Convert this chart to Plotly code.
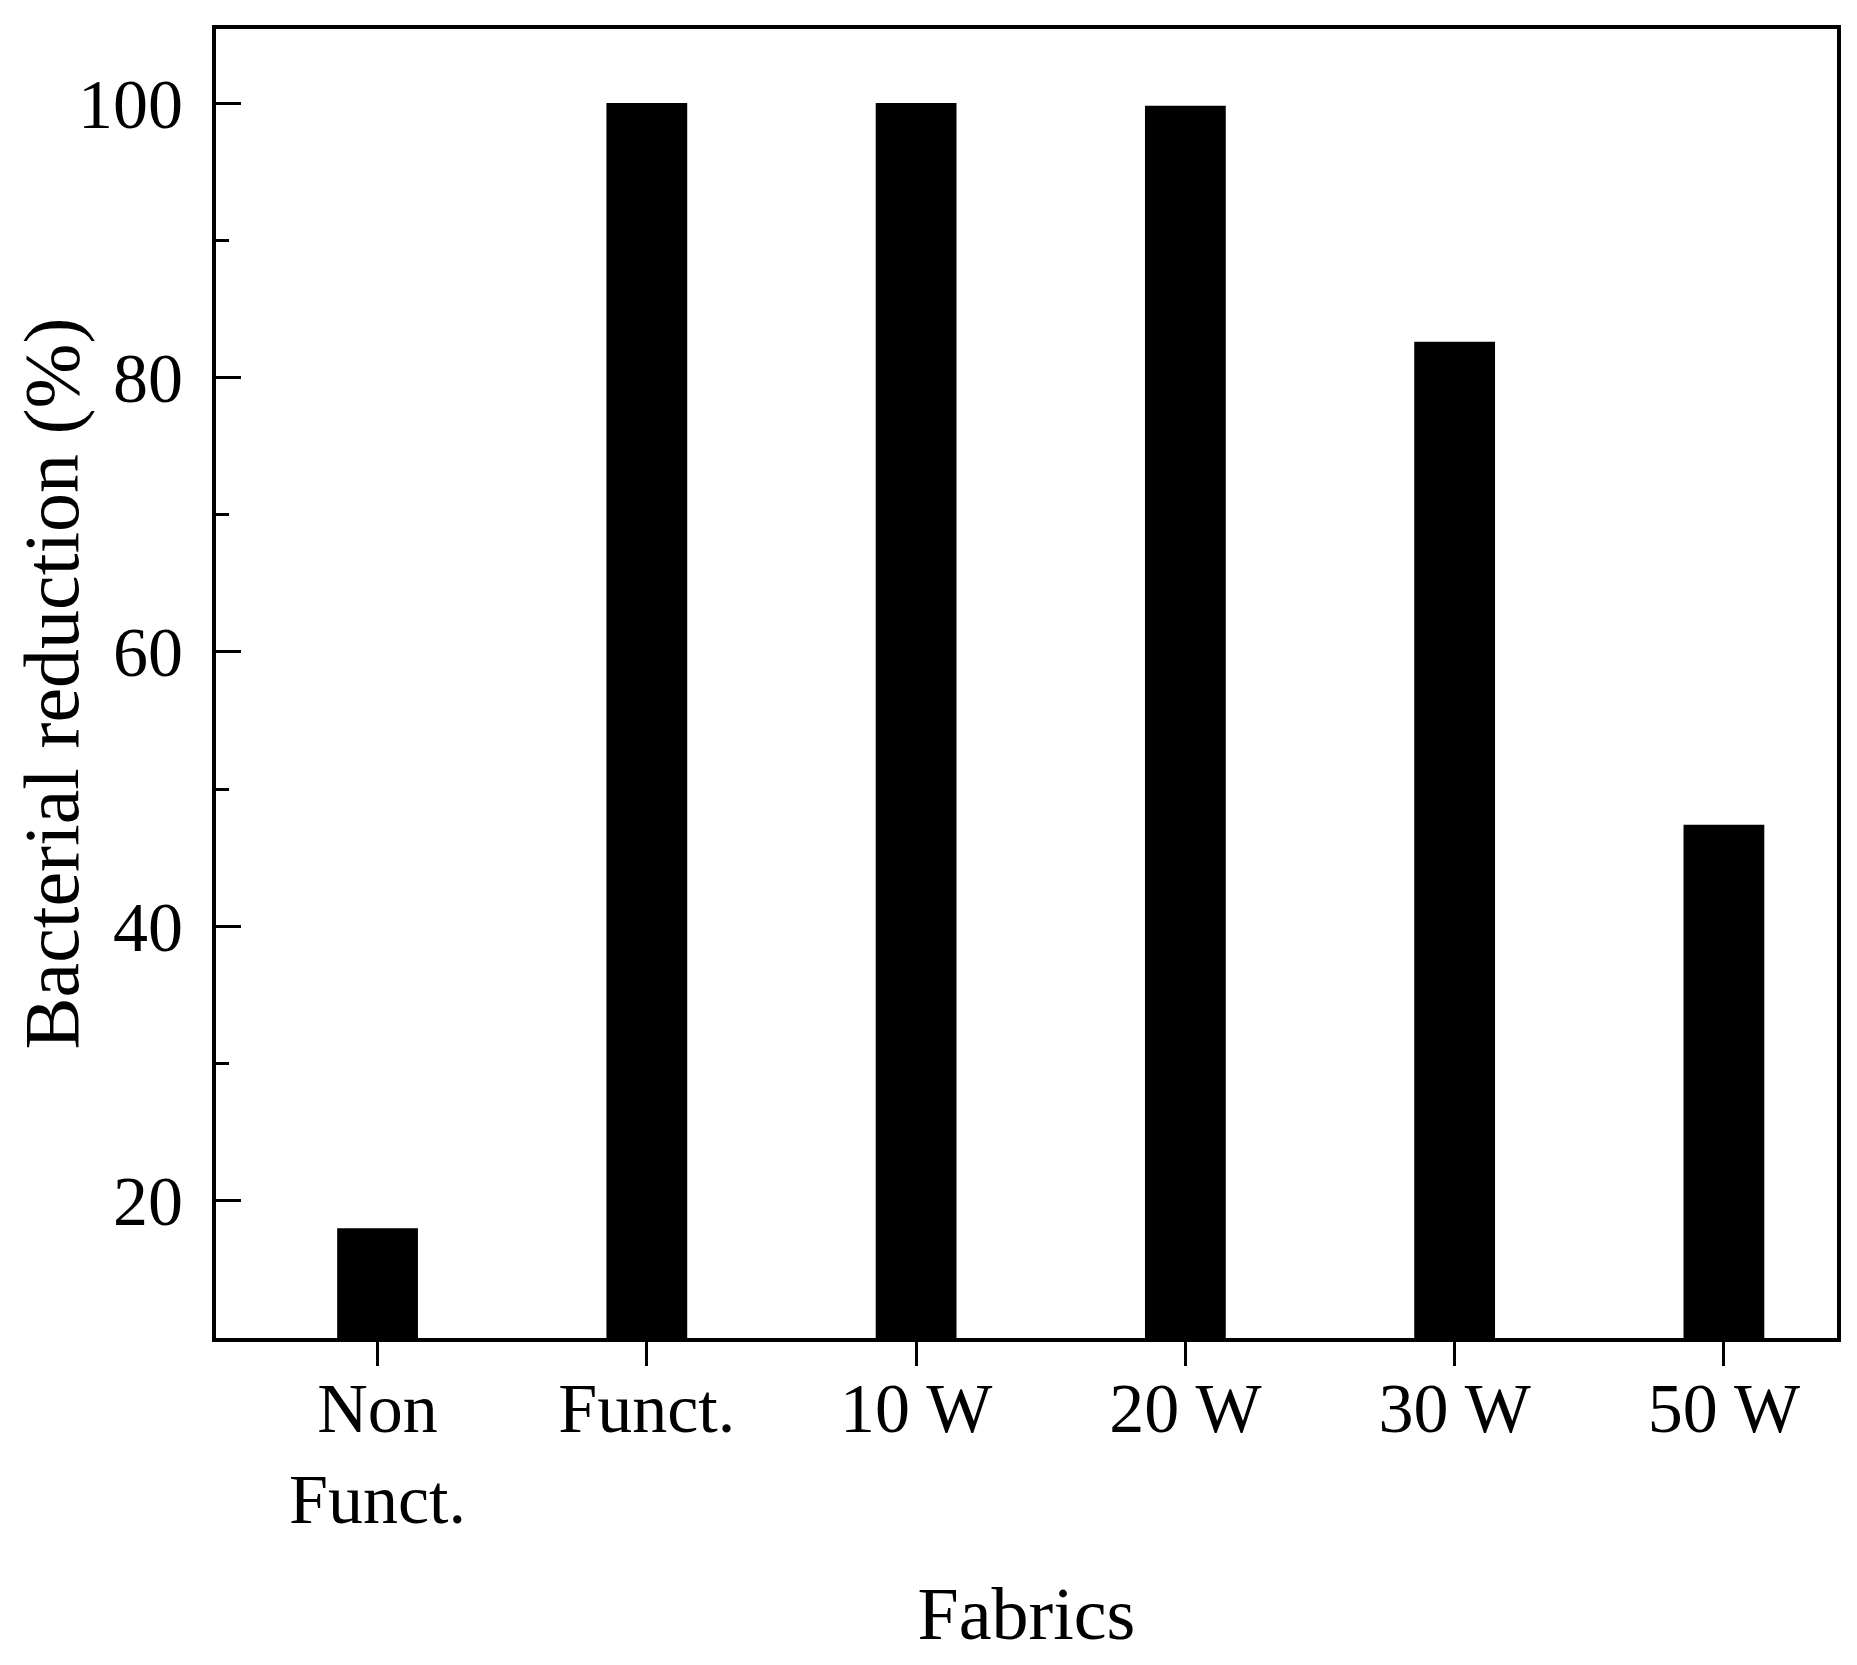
import plotly.graph_objects as go

# fabric samples and measured bacterial reduction (%)
fabrics = ["Non Funct.", "Funct.", "10 W", "20 W", "30 W", "50 W"]
tick_labels = ["Non<br>Funct.", "Funct.", "10 W", "20 W", "30 W", "50 W"]
reduction = [18.0, 100.0, 100.0, 99.8, 82.6, 47.4]

y_ticks = [20, 40, 60, 80, 100]

font_family = "Liberation Serif"

fig = go.Figure()

fig.add_trace(go.Bar(
    x=fabrics,
    y=reduction,
    width=0.3,
    marker=dict(color="black", line=dict(width=0)),
    showlegend=False
))

fig.update_layout(
    width=1857,
    height=1665,
    margin=dict(l=208, r=28, t=21, b=335),
    plot_bgcolor="white",
    paper_bgcolor="white",
    font=dict(family=font_family, size=70, color="black"),
    xaxis=dict(
        tickmode="array",
        tickvals=fabrics,
        ticktext=tick_labels,
        range=[-0.6, 5.42],
        showline=True,
        linecolor="black",
        linewidth=4,
        mirror=True,
        ticks="outside",
        ticklen=24,
        tickwidth=3,
        tickcolor="black",
        ticklabelstandoff=-18,
        showgrid=False,
        zeroline=False,
        title=dict(text="Fabrics", font=dict(size=74), standoff=51),
    ),
    yaxis=dict(
        range=[10, 105.4],
        tickmode="array",
        tickvals=y_ticks,
        showline=True,
        linecolor="black",
        linewidth=4,
        mirror=True,
        ticks="inside",
        ticklen=25,
        tickwidth=3,
        tickcolor="black",
        ticklabelstandoff=15,
        minor=dict(tickvals=[10, 30, 50, 70, 90], ticks="inside", ticklen=13,
                   tickwidth=3, tickcolor="black"),
        showgrid=False,
        zeroline=False,
        automargin=False,
        title=dict(text="Bacterial reduction (%)", font=dict(size=78), standoff=12),
    ),
)

fig.write_html("out.html")
